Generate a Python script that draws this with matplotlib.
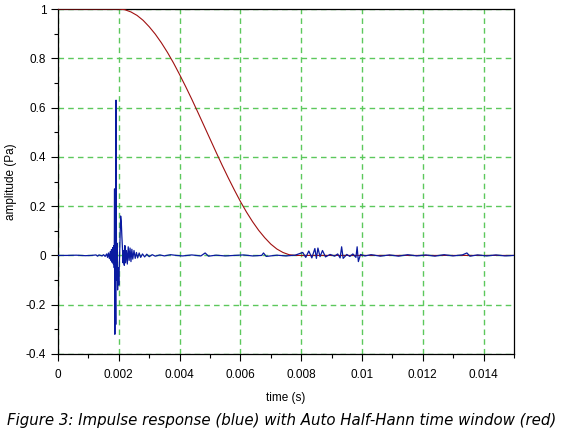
import matplotlib
matplotlib.use("Agg")
import matplotlib.pyplot as plt
from matplotlib.ticker import MultipleLocator

# ── data ──────────────────────────────────────────────────────
# impulse response, time in ms
ir_t_ms = [0.0, 0.3, 0.6, 0.9, 1.1, 1.25, 1.3, 1.35, 1.45, 1.5, 1.55, 1.6,
           1.63, 1.66, 1.69, 1.72, 1.74, 1.76, 1.78, 1.8, 1.82, 1.835, 1.85,
           1.86, 1.87, 1.885, 1.9, 1.91, 1.925, 1.94, 1.96, 1.98, 2.0, 2.03,
           2.06, 2.08, 2.1, 2.12, 2.14, 2.16, 2.18, 2.2, 2.22, 2.25, 2.28,
           2.31, 2.34, 2.37, 2.4, 2.43, 2.46, 2.5, 2.54, 2.58, 2.62, 2.67,
           2.72, 2.78, 2.85, 2.92, 3.0, 3.1, 3.2, 3.35, 3.5, 3.7, 3.9, 4.1,
           4.4, 4.7, 4.84, 4.95, 5.2, 5.5, 5.8, 6.1, 6.4, 6.7, 6.76, 6.85,
           7.2, 7.5, 7.8, 8.05, 8.15, 8.25, 8.35, 8.45, 8.5, 8.55, 8.62, 8.7,
           8.8, 8.95, 9.1, 9.2, 9.28, 9.33, 9.38, 9.5, 9.6, 9.7, 9.8, 9.84,
           9.88, 9.95, 10.1, 10.3, 10.6, 10.9, 11.2, 11.5, 11.8, 12.1, 12.4,
           12.7, 13.0, 13.3, 13.45, 13.55, 13.8, 14.1, 14.4, 14.7, 15.0]
ir_amp = [0.0, 0.0, 0.001, -0.001, 0.0, 0.002, -0.003, 0.002, -0.002, 0.003,
          -0.004, 0.006, -0.008, 0.01, -0.013, 0.016, -0.02, 0.024, -0.028,
          0.032, -0.035, 0.04, -0.05, 0.27, -0.32, 0.05, -0.28, 0.63, -0.1,
          0.05, -0.14, -0.05, -0.12, 0.02, 0.16, 0.14, 0.08, 0.03, -0.03,
          0.02, -0.04, 0.04, -0.03, 0.02, -0.035, 0.035, -0.02, 0.03, -0.025,
          0.025, -0.015, 0.02, -0.012, 0.012, -0.01, 0.01, -0.008, 0.006,
          -0.006, 0.005, -0.005, 0.003, -0.003, 0.002, -0.002, 0.003, 0.0,
          -0.002, 0.002, -0.002, 0.01, -0.003, 0.001, -0.002, 0.0, 0.002,
          -0.002, 0.0, 0.01, -0.004, 0.001, -0.002, 0.001, 0.012, -0.008,
          0.018, -0.01, 0.028, -0.012, 0.03, -0.005, 0.02, -0.006, 0.004,
          -0.003, 0.006, -0.01, 0.035, -0.012, 0.004, -0.004, 0.006, -0.008,
          0.035, -0.025, 0.004, -0.002, 0.003, -0.003, 0.002, -0.003, 0.003,
          -0.002, 0.002, -0.003, 0.003, -0.002, 0.002, 0.01, -0.003, 0.002,
          -0.002, 0.002, -0.002, 0.0]

# auto half-Hann window, time in ms
win_t_ms = [0.0, 2.0, 2.2, 2.4, 2.6, 2.8, 3.0, 3.2, 3.4, 3.6, 3.8, 4.0, 4.2,
            4.4, 4.6, 4.8, 5.0, 5.2, 5.4, 5.6, 5.8, 6.0, 6.2, 6.4, 6.6, 6.8,
            7.0, 7.2, 7.4, 7.6, 7.8, 15.0]
win_amp = [1.0, 1.0, 0.997, 0.988, 0.974, 0.954, 0.928, 0.898, 0.863, 0.824,
           0.781, 0.734, 0.685, 0.634, 0.581, 0.527, 0.473, 0.419, 0.366,
           0.315, 0.266, 0.219, 0.176, 0.137, 0.102, 0.072, 0.046, 0.026,
           0.012, 0.003, 0.0, 0.0]

x_ticks = [0, 0.002, 0.004, 0.006, 0.008, 0.010, 0.012, 0.014]
x_labels = ["0", "0.002", "0.004", "0.006", "0.008", "0.01", "0.012", "0.014"]
y_ticks = [-0.4, -0.2, 0, 0.2, 0.4, 0.6, 0.8, 1.0]
y_labels = ["-0.4", "-0.2", "0", "0.2", "0.4", "0.6", "0.8", "1"]

caption = "Figure 3: Impulse response (blue) with Auto Half-Hann time window (red)"

# ── plot ─────────────────────────────────────────────────────
plt.rcParams["font.family"] = ["Liberation Sans", "DejaVu Sans"]

fig = plt.figure(figsize=(5.64, 4.33), dpi=100)
ax = fig.add_axes([58 / 564, 1 - 354 / 433, 456 / 564, 345 / 433])

ir_t = [t / 1000 for t in ir_t_ms]
win_t = [t / 1000 for t in win_t_ms]

ax.plot(win_t, win_amp, color="#a01010", lw=0.8, zorder=3)
ax.plot(ir_t, ir_amp, color="#0a1aa0", lw=0.9, zorder=4)

ax.set_xlim(0, 0.015)
ax.set_ylim(-0.4, 1.0)
ax.set_xticks(x_ticks, x_labels)
ax.set_yticks(y_ticks, y_labels)
ax.xaxis.set_minor_locator(MultipleLocator(0.001))
ax.yaxis.set_minor_locator(MultipleLocator(0.1))
ax.tick_params(which="both", direction="out", labelsize=8.5, width=0.8,
               top=False, right=False)
ax.tick_params(which="major", length=5)
ax.tick_params(which="minor", length=3)
ax.tick_params(axis="x", pad=6)

ax.grid(True, which="major", color="#5cc85c", ls=(0, (4, 3)), lw=1.0,
        snap=True)
ax.set_axisbelow(True)
for s in ax.spines.values():
    s.set_linewidth(0.9)

ax.set_xlabel("time (s)", fontsize=8.5, labelpad=8)
ax.set_ylabel("amplitude (Pa)", fontsize=8.5, labelpad=6)

fig.text(0.5, 1 - 420 / 433, caption, ha="center", va="center",
         fontsize=10.8, style="italic", family="DejaVu Sans")

fig.savefig("out.png", dpi=100)
